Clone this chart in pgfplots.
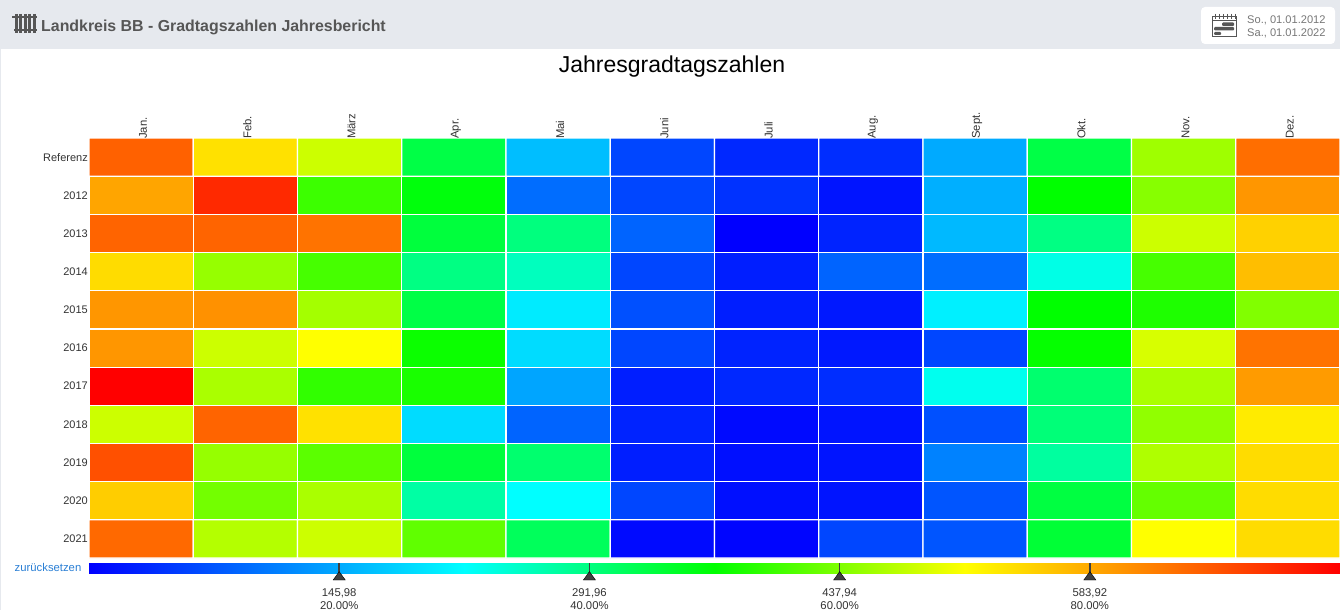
\documentclass[border=0pt]{standalone}
\usepackage{fontspec}
\setmainfont{Liberation Sans}
\usepackage{pgfplots}
\pgfplotsset{compat=1.18}
\definecolor{hdr}{HTML}{E6E9EE}
\definecolor{hdrtxt}{HTML}{565656}
\definecolor{lbl}{HTML}{333333}
\definecolor{datetxt}{HTML}{777777}
\definecolor{linkblue}{HTML}{2A7FD5}
\definecolor{handle}{HTML}{404040}
\pgfplotsset{colormap={gradtag}{rgb255(0cm)=(0,0,255) rgb255(3cm)=(0,255,255) rgb255(5cm)=(0,255,0) rgb255(7cm)=(255,255,0) rgb255(10cm)=(255,0,0)}}
\begin{document}
\begin{tikzpicture}[x=1pt,y=-1pt]
\path[use as bounding box] (0,0) rectangle (1340,610);
\fill[white] (0,0) rectangle (1340,610);
\fill[hdr] (0,0) rectangle (1340,49);
\fill[hdr] (0,49) rectangle (1,610);
\node[anchor=west,text=hdrtxt,font=\bfseries\fontsize{15.9}{18}\selectfont,inner sep=0] at (41,27) {Landkreis BB - Gradtagszahlen Jahresbericht};
% radiator icon
\begin{scope}[hdrtxt,line width=3pt]
\foreach \x in {16,20.5,25,29.5,34} \draw (\x,14) -- (\x,33);
\draw[line width=1.2pt] (12,17) -- (37,17);
\draw[line width=1.2pt] (14,30) -- (37,30);
\end{scope}
% date box
\fill[white,rounded corners=4pt] (1201,7) rectangle (1335,44);
\node[anchor=west,text=datetxt,font=\fontsize{11.1}{13}\selectfont,inner sep=0] at (1247,20) {So., 01.01.2012};
\node[anchor=west,text=datetxt,font=\fontsize{11.1}{13}\selectfont,inner sep=0] at (1247,33) {Sa., 01.01.2022};
\begin{scope}[hdrtxt]
\draw[line width=1pt] (1212.5,17) rectangle (1236.5,37);
\draw[line width=1pt] (1212.5,20.5) -- (1236.5,20.5);
\foreach \x in {1215,1219,1223,1227,1231,1235} \draw[line width=.8pt] (\x,14) -- (\x,19);
\fill[rounded corners=1pt] (1222,22.5) rectangle (1234,26);
\fill[rounded corners=1pt] (1214,27) rectangle (1234,30.5);
\fill[rounded corners=1pt] (1214,32) rectangle (1221,35);
\end{scope}
\node[font=\fontsize{23}{26}\selectfont,text=black] at (672,66.5) {Jahresgradtagszahlen};
\node[anchor=east,text=linkblue,font=\fontsize{11.3}{13}\selectfont,inner sep=0] at (81.5,567) {zurücksetzen};
\begin{axis}[
  at={(89pt,-138pt)},anchor=north west,
  scale only axis,width=1251pt,height=420pt,
  xmin=-0.5,xmax=11.5,ymin=-0.5,ymax=10.5,
  y dir=reverse,
  axis line style={draw=none},
  major tick length=0pt,
  xtick={0,...,11},
  xticklabels={Jan.,Feb.,März,Apr.,Mai,Juni,Juli,Aug.,Sept.,Okt.,Nov.,Dez.},
  xticklabel pos=top,
  xticklabel style={rotate=90,anchor=west,font=\fontsize{11.3}{12}\selectfont,text=lbl,inner sep=0pt,xshift=-1pt,yshift=-2pt},
  ytick={0,...,10},
  yticklabels={Referenz,2012,2013,2014,2015,2016,2017,2018,2019,2020,2021},
  yticklabel style={font=\fontsize{11}{13}\selectfont,text=lbl,inner sep=0pt,xshift=-1pt},
  colormap name=gradtag,
  point meta min=0,point meta max=729.9,
]
\addplot[matrix plot,mesh/cols=12,point meta=explicit,draw=white,line width=1.2pt]
 table[row sep=\\,x=x,y=y,meta=z] {
x y z\\
0 0 647\\ 1 0 537\\ 2 0 482\\ 3 0 325\\ 4 0 163\\ 5 0 60\\ 6 0 34\\ 7 0 39\\ 8 0 146\\ 9 0 325\\ 10 0 456\\ 11 0 635\\
0 1 588\\ 1 1 695\\ 2 1 399\\ 3 1 358\\ 4 1 94\\ 5 1 60\\ 6 1 43\\ 7 1 17\\ 8 1 150\\ 9 1 365\\ 10 1 442\\ 11 1 601\\
0 2 644\\ 1 2 644\\ 2 2 631\\ 3 2 330\\ 4 2 293\\ 5 2 86\\ 6 2 0\\ 7 2 30\\ 8 2 159\\ 9 2 290\\ 10 2 482\\ 11 2 550\\
0 3 541\\ 1 3 451\\ 2 3 405\\ 3 3 290\\ 4 3 256\\ 5 3 60\\ 6 3 26\\ 7 3 86\\ 8 3 94\\ 9 3 233\\ 10 3 405\\ 11 3 567\\
0 4 601\\ 1 4 605\\ 2 4 459\\ 3 4 325\\ 4 4 202\\ 5 4 69\\ 6 4 26\\ 7 4 21\\ 8 4 206\\ 9 4 365\\ 10 4 382\\ 11 4 439\\
0 5 601\\ 1 5 482\\ 2 5 511\\ 3 5 371\\ 4 5 189\\ 5 5 60\\ 6 5 30\\ 7 5 21\\ 8 5 60\\ 9 5 368\\ 10 5 488\\ 11 5 631\\
0 6 730\\ 1 6 462\\ 2 6 393\\ 3 6 379\\ 4 6 142\\ 5 6 26\\ 6 6 34\\ 7 6 39\\ 8 6 228\\ 9 6 302\\ 10 6 462\\ 11 6 597\\
0 7 482\\ 1 7 644\\ 2 7 537\\ 3 7 189\\ 4 7 86\\ 5 7 30\\ 6 7 9\\ 7 7 17\\ 8 7 69\\ 9 7 296\\ 10 7 448\\ 11 7 528\\
0 8 661\\ 1 8 451\\ 2 8 417\\ 3 8 330\\ 4 8 302\\ 5 8 26\\ 6 8 13\\ 7 8 17\\ 8 8 112\\ 9 8 274\\ 10 8 465\\ 11 8 541\\
0 9 554\\ 1 9 431\\ 2 9 462\\ 3 9 271\\ 4 9 219\\ 5 9 60\\ 6 9 13\\ 7 9 17\\ 8 9 73\\ 9 9 328\\ 10 9 422\\ 11 9 541\\
0 10 640\\ 1 10 468\\ 2 10 482\\ 3 10 420\\ 4 10 313\\ 5 10 9\\ 6 10 4\\ 7 10 60\\ 8 10 73\\ 9 10 334\\ 10 10 511\\ 11 10 541\\
};
\end{axis}
\begin{axis}[
  at={(89pt,-563pt)},anchor=north west,
  scale only axis,width=1251pt,height=10pt,
  xmin=0,xmax=729.9,ymin=0,ymax=1,
  clip=false,
  axis line style={draw=none},
  major tick length=0pt,
  ytick=\empty,
  xtick={145.98,291.96,437.94,583.92},
  xticklabels={{145,98\\20.00\%},{291,96\\40.00\%},{437,94\\60.00\%},{583,92\\80.00\%}},
  xticklabel style={align=center,font=\fontsize{11.3}{13.2}\selectfont,text=lbl,inner sep=0pt,yshift=-15.5pt},
  colormap name=gradtag,
  point meta min=0,point meta max=729.9,
  view={0}{90},
]
\addplot3[surf,shader=interp,mesh/rows=2,point meta=x] coordinates {
 (0,0,0) (729.9,0,0)

 (0,1,0) (729.9,1,0)
};
\addplot3[draw=handle,line width=1.6pt,mark=none] coordinates {(145.98,1,0) (145.98,-0.3,0)};
\addplot3[draw=handle,line width=1.6pt,mark=none] coordinates {(291.96,1,0) (291.96,-0.3,0)};
\addplot3[draw=handle,line width=1.6pt,mark=none] coordinates {(437.94,1,0) (437.94,-0.3,0)};
\addplot3[draw=handle,line width=1.6pt,mark=none] coordinates {(583.92,1,0) (583.92,-0.3,0)};
\addplot3[only marks,mark=triangle*,mark size=7pt,mark options={fill=handle,draw=none,yscale=.8}] coordinates {(145.98,-0.42,0) (291.96,-0.42,0) (437.94,-0.42,0) (583.92,-0.42,0)};
\end{axis}
\end{tikzpicture}
\end{document}
